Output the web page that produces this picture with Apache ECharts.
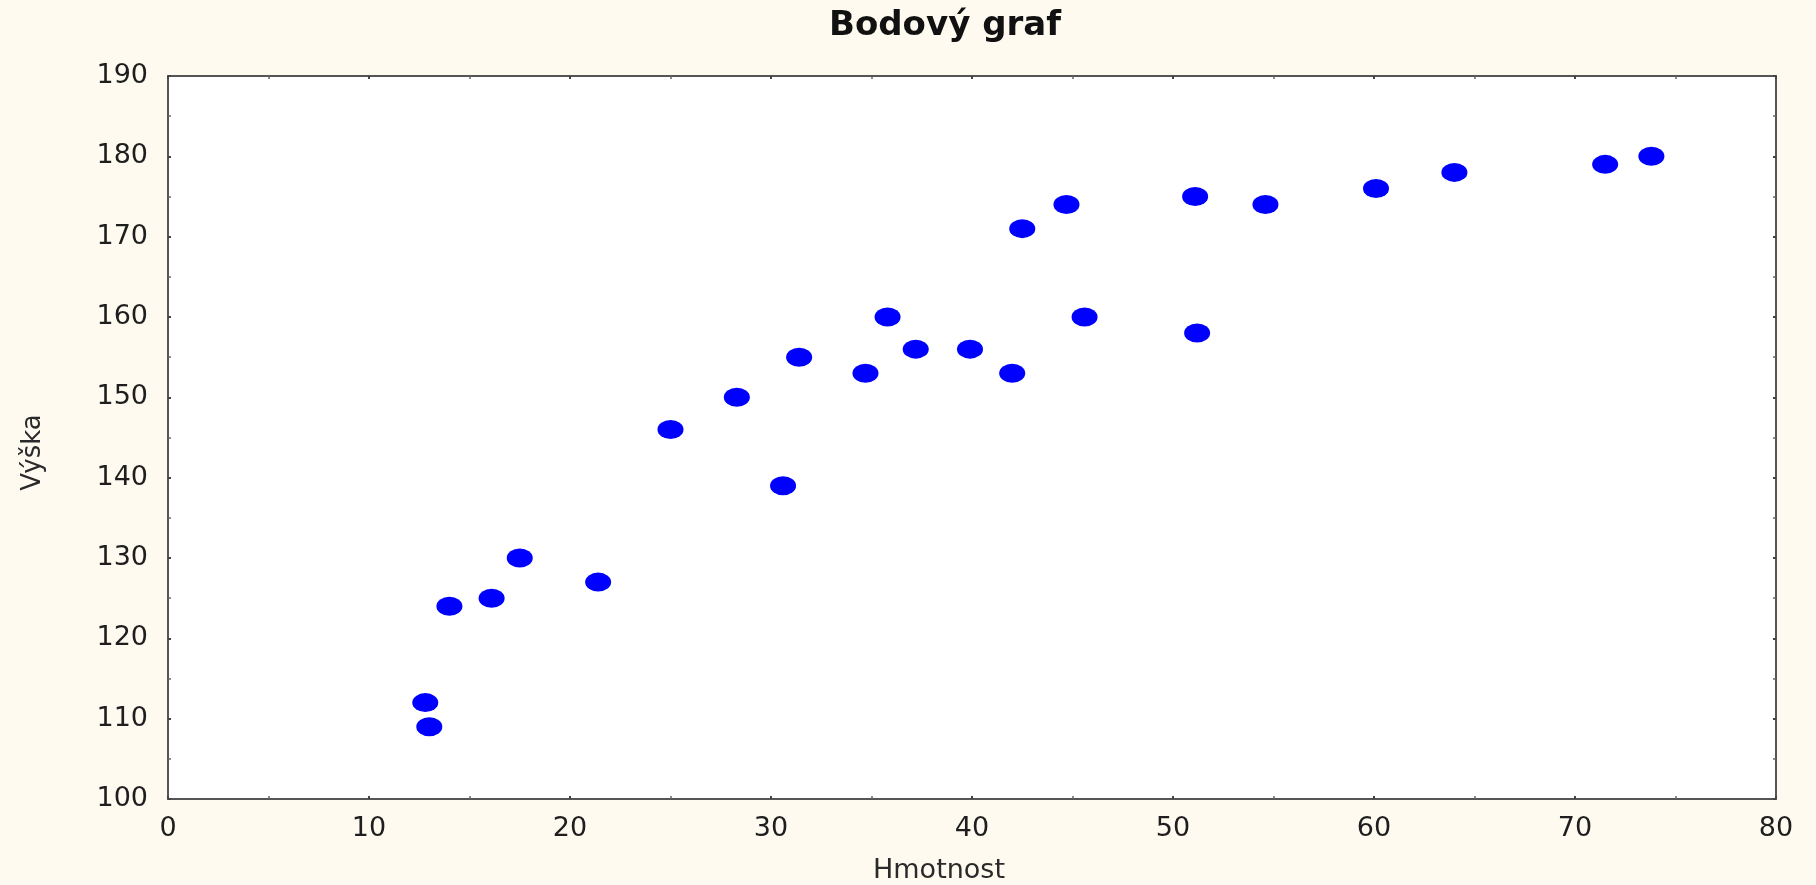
<!DOCTYPE html>
<html>
<head>
<meta charset="utf-8">
<script src="https://cdn.jsdelivr.net/npm/echarts@6/dist/echarts.min.js"></script>
<style>
html,body{margin:0;padding:0;background:#FEFAEF;}
#chart{width:1816px;height:885px;}
</style>
</head>
<body>
<div id="chart"></div>
<script>
const titleText = 'Bodový graf';
const xName = 'Hmotnost';
const yName = 'Výška';
const hmotnost = [12.8, 13.0, 14.0, 16.1, 17.5, 21.4, 25.0, 28.3, 30.6, 31.4, 34.7, 35.8, 37.2, 39.9, 42.0, 42.5, 44.7, 45.6, 51.1, 51.2, 54.6, 60.1, 64.0, 71.5, 73.8];
const vyska    = [112, 109, 124, 125, 130, 127, 146, 150, 139, 155, 153, 160, 156, 156, 153, 171, 174, 160, 175, 158, 174, 176, 178, 179, 180];
const xTicks = [0, 10, 20, 30, 40, 50, 60, 70, 80];
const yTicks = [100, 110, 120, 130, 140, 150, 160, 170, 180, 190];

const points = hmotnost.map((x, i) => [x, vyska[i]]);
const fontFam = 'DejaVu Sans';
const axisLineStyle = { color: '#555', width: 2 };
const tickStyle = { color: '#444', width: 2 };

function mkX(pos, showLabels) {
  return {
    type: 'value', position: pos,
    min: xTicks[0], max: xTicks[xTicks.length - 1], interval: 10,
    name: showLabels ? xName : '', nameLocation: 'middle', nameGap: 58,
    nameTextStyle: { fontFamily: fontFam, fontSize: 27, color: '#2a2a2a', padding: [0, 66, 0, 0] },
    axisLine: { show: true, onZero: false, lineStyle: axisLineStyle },
    axisTick: { show: true, inside: true, length: 3, lineStyle: tickStyle },
    minorTick: { show: true, splitNumber: 2, length: 3, lineStyle: { color: '#666', width: 1.5 } },
    axisLabel: { show: showLabels, margin: 16, fontFamily: fontFam, fontSize: 27, color: '#1e1e1e' },
    splitLine: { show: false }
  };
}
function mkY(pos, showLabels) {
  return {
    type: 'value', position: pos,
    min: yTicks[0], max: yTicks[yTicks.length - 1], interval: 10,
    name: showLabels ? yName : '', nameLocation: 'middle', nameGap: 122,
    nameTextStyle: { fontFamily: fontFam, fontSize: 26, color: '#2a2a2a', padding: [0, 30, 0, 0] },
    axisLine: { show: true, onZero: false, lineStyle: axisLineStyle },
    axisTick: { show: true, inside: true, length: 3, lineStyle: tickStyle },
    minorTick: { show: true, splitNumber: 2, length: 3, lineStyle: { color: '#666', width: 1.5 } },
    axisLabel: { show: showLabels, margin: 20, fontFamily: fontFam, fontSize: 27, color: '#1e1e1e' },
    splitLine: { show: false }
  };
}

const chart = echarts.init(document.getElementById('chart'));
chart.setOption({
  backgroundColor: '#FEFAEF',
  animation: false,
  title: {
    text: titleText, left: 940, top: 4, textAlign: 'center',
    textStyle: { fontFamily: fontFam, fontSize: 34, fontWeight: 'bold', color: '#111' }
  },
  grid: {
    left: 168, right: 40, top: 76, bottom: 86, containLabel: false,
    outerBoundsMode: 'none',
    show: true, backgroundColor: '#ffffff', borderWidth: 0
  },
  xAxis: [mkX('bottom', true), mkX('top', false)],
  yAxis: [mkY('left', true), mkY('right', false)],
  series: [{
    type: 'scatter',
    xAxisIndex: 0, yAxisIndex: 0,
    data: points,
    symbol: 'circle',
    symbolSize: [26, 19],
    itemStyle: { color: '#0000FF', opacity: 1 }
  }]
});
</script>
</body>
</html>
